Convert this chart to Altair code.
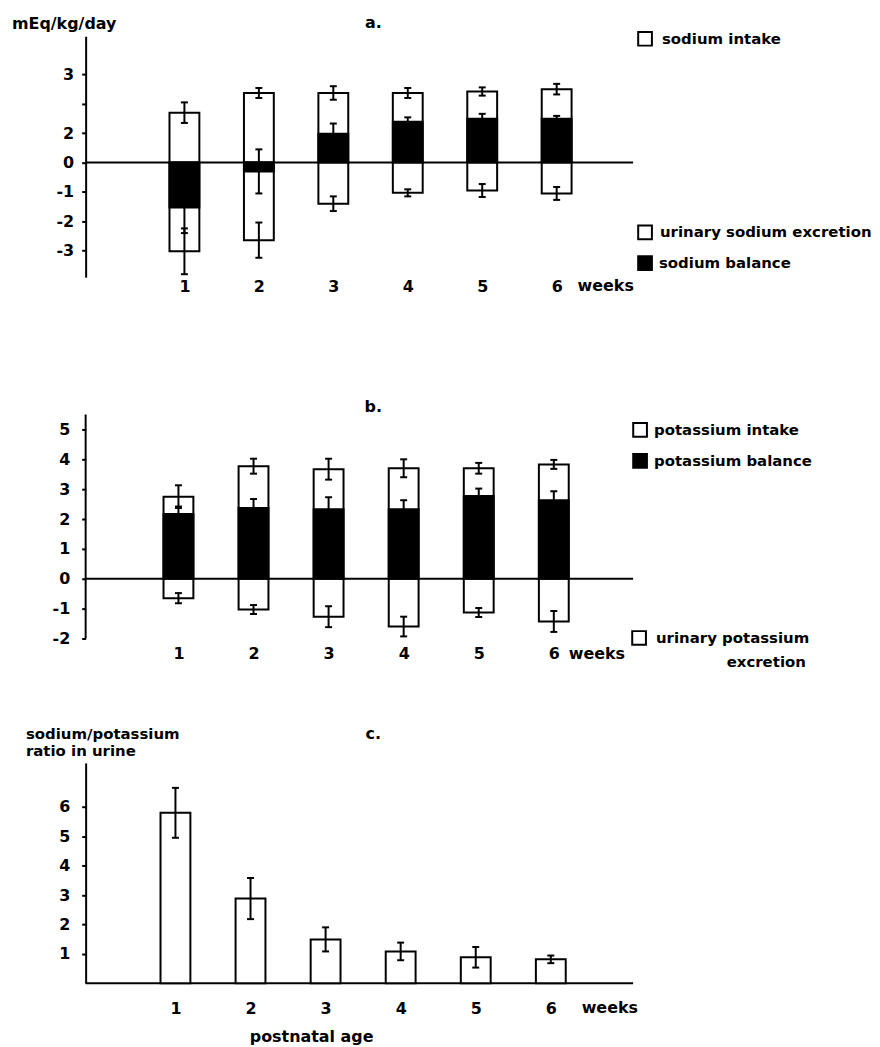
import altair as alt
import pandas as pd

FONT = "DejaVu Sans"

weeks = [1, 2, 3, 4, 5, 6]

# panel a: sodium (mEq/kg/day)
na_intake = [1.70, 2.37, 2.37, 2.37, 2.42, 2.50]
na_intake_err = [0.35, 0.17, 0.23, 0.17, 0.14, 0.18]
na_balance = [-1.53, -0.30, 0.98, 1.39, 1.49, 1.49]
na_balance_err = [0.87, 0.75, 0.35, 0.15, 0.17, 0.10]
na_excretion = [3.02, 2.64, 1.40, 1.03, 0.95, 1.05]
na_excretion_err = [0.78, 0.60, 0.25, 0.12, 0.22, 0.22]
na_ticks = [-3, -2, -1, 0, 1, 2, 3]
na_tick_labels = ["-3", "-2", "-1", "0", "2", "", "3"]

# panel b: potassium (mEq/kg/day)
k_intake = [2.75, 3.77, 3.67, 3.70, 3.70, 3.83]
k_intake_err = [0.38, 0.25, 0.35, 0.30, 0.18, 0.15]
k_balance = [2.17, 2.37, 2.33, 2.33, 2.77, 2.63]
k_balance_err = [0.25, 0.30, 0.40, 0.30, 0.25, 0.30]
k_excretion = [0.65, 1.03, 1.27, 1.60, 1.13, 1.43]
k_excretion_err = [0.17, 0.15, 0.35, 0.33, 0.15, 0.35]
k_ticks = [-2, -1, 0, 1, 2, 3, 4, 5]
k_tick_labels = ["-2", "-1", "0", "1", "2", "3", "4", "5"]

# panel c: sodium/potassium ratio in urine
ratio = [5.80, 2.88, 1.49, 1.08, 0.88, 0.81]
ratio_err = [0.85, 0.70, 0.41, 0.30, 0.35, 0.13]
ratio_ticks = [1, 2, 3, 4, 5, 6]
ratio_tick_labels = ["1", "2", "3", "4", "5", "6"]

W = 550
ONE = pd.DataFrame({"k": [0]})


def y_axis(ticks, labels, pad, domain=True):
    expr = " : ".join(f"datum.value == {t} ? '{l}'" for t, l in zip(ticks, labels)) + " : ''"
    return alt.Axis(values=ticks, labelExpr=expr, title=None, grid=False, labelOverlap=False,
                    domain=domain, domainColor="black", domainWidth=2, tickColor="black",
                    tickWidth=2, tickSize=4, labelPadding=pad, labelFont=FONT,
                    labelFontSize=16, labelFontWeight="bold", labelColor="black")


def x_axis(pad):
    return alt.Axis(values=weeks, format="d", title=None, grid=False, domain=False,
                    ticks=False, tickSize=0, labelPadding=pad, labelFont=FONT,
                    labelFontSize=16, labelFontWeight="bold", labelColor="black",
                    labelBaseline="top", labelOverlap=False)


def text(label, x, y, size=15, align="left", baseline="middle"):
    return alt.Chart(ONE).mark_text(text=label, align=align, baseline=baseline,
                                    font=FONT, fontSize=size, fontWeight="bold",
                                    color="black").encode(x=alt.value(x), y=alt.value(y))


def swatch(x, y, filled):
    return alt.Chart(ONE).mark_square(size=190, filled=filled, fill="black" if filled else "white",
                                      stroke="black", strokeWidth=2,
                                      opacity=1).encode(x=alt.value(x), y=alt.value(y))


def error_layers(df_err, xs, ys, xa, ya):
    rules = alt.Chart(df_err).mark_rule(color="black", strokeWidth=2).encode(
        x=alt.X("week:Q", scale=xs, axis=xa), y=alt.Y("lo:Q", scale=ys, axis=ya), y2="hi:Q")
    caps_df = pd.concat([df_err[["week", "lo"]].rename(columns={"lo": "v"}),
                         df_err[["week", "hi"]].rename(columns={"hi": "v"})])
    caps = alt.Chart(caps_df).mark_tick(orient="horizontal", size=7, thickness=2,
                                        color="black", opacity=1).encode(
        x=alt.X("week:Q", scale=xs, axis=xa), y=alt.Y("v:Q", scale=ys, axis=ya))
    return [rules, caps]


def balance_panel(intake, intake_err, balance, balance_err, excr, excr_err,
                  ydom, axis_span, ticks, labels, H, xdom, ylabpad, xlabpad, weeks_dx, extras):
    df = pd.DataFrame({"week": weeks, "intake": intake, "balance": balance,
                       "excr": [-v for v in excr]})
    rows = []
    for vals, errs in ((intake, intake_err), (balance, balance_err),
                       ([-v for v in excr], excr_err)):
        for w, v, e in zip(weeks, vals, errs):
            rows.append({"week": w, "lo": v - e, "hi": v + e})
    df_err = pd.DataFrame(rows)
    xs = alt.Scale(domain=xdom, nice=False, zero=False)
    ys = alt.Scale(domain=ydom, nice=False, zero=False)
    use_domain = axis_span is None
    xa = x_axis(xlabpad)
    ya = y_axis(ticks, labels, ylabpad, use_domain)

    zero = alt.Chart(ONE).mark_rule(color="black", strokeWidth=2).encode(
        x=alt.value(0), x2=alt.value(W), y=alt.Y(datum=0, scale=ys, axis=ya))
    layers = [zero]
    if not use_domain:
        layers.append(alt.Chart(ONE).mark_rule(color="black", strokeWidth=2).encode(
            x=alt.value(0), y=alt.Y(datum=axis_span[0], scale=ys, axis=ya),
            y2=alt.Y2(datum=axis_span[1])))
    base = alt.Chart(df)
    intake_bar = base.mark_bar(size=30, fill="white", stroke="black", strokeWidth=2).encode(
        x=alt.X("week:Q", scale=xs, axis=xa),
        y=alt.Y("intake:Q", scale=ys, axis=ya),
        y2=alt.Y2(datum=0))
    excr_bar = base.mark_bar(size=30, fill="white", stroke="black", strokeWidth=2).encode(
        x=alt.X("week:Q", scale=xs, axis=xa), y=alt.Y("excr:Q", scale=ys, axis=ya),
        y2=alt.Y2(datum=0))
    bal_bar = base.mark_bar(size=30, fill="black", stroke="black", strokeWidth=2).encode(
        x=alt.X("week:Q", scale=xs, axis=xa), y=alt.Y("balance:Q", scale=ys, axis=ya),
        y2=alt.Y2(datum=0))
    weeks_txt = alt.Chart(ONE).mark_text(text="weeks", align="left", baseline="top",
                                         dx=weeks_dx, font=FONT, fontSize=16,
                                         fontWeight="bold", color="black").encode(
        x=alt.X(datum=6, scale=xs, axis=xa), y=alt.value(H + xlabpad))
    layers += [intake_bar, excr_bar, bal_bar] + error_layers(df_err, xs, ys, xa, ya) + [weeks_txt] + extras
    return alt.layer(*layers).properties(width=W, height=H)


SPACING = 125
HA = 242
panel_a = balance_panel(
    na_intake, na_intake_err, na_balance, na_balance_err, na_excretion, na_excretion_err,
    [-3.9, 4.3], None, na_ticks, na_tick_labels, HA, [-0.26, 6.96], 8, 1, 21,
    [text("mEq/kg/day", -74, -12, size=16),
     text("a.", 289, -13, size=16, align="center"),
     swatch(562, 2.5, False), text("sodium intake", 579, 2.5),
     swatch(562, 197, False), text("urinary sodium excretion", 577, 197),
     swatch(562, 228, True), text("sodium balance", 576, 228)])

# panel b plot area starts a little above its axis line so both gaps can share one spacing
OFF = 13
HB = 225 + OFF
panel_b = balance_panel(
    k_intake, k_intake_err, k_balance, k_balance_err, k_excretion, k_excretion_err,
    [-2.0, 5.5 + OFF / 30], [-2.0, 5.5], k_ticks, k_tick_labels, HB, [-0.17, 6.99], 12, 7.5, 15,
    [text("b.", 289, -8 + OFF, size=16, align="center"),
     swatch(557, 15.5 + OFF, False), text("potassium intake", 571, 15.5 + OFF),
     swatch(557, 46.5 + OFF, True), text("potassium balance", 571, 46.5 + OFF),
     swatch(556, 224.5 + OFF, False), text("urinary potassium", 573, 224.5 + OFF),
     text("excretion", 644, 249 + OFF)])

HC = 221.25
xs_c = alt.Scale(domain=[-0.13, 7.03], nice=False, zero=False)
ys_c = alt.Scale(domain=[0, 7.5], nice=False, zero=False)
xa_c = x_axis(17)
ya_c = y_axis(ratio_ticks, ratio_tick_labels, 12)
df_c = pd.DataFrame({"week": weeks, "ratio": ratio})
df_c_err = pd.DataFrame({"week": weeks,
                         "lo": [v - e for v, e in zip(ratio, ratio_err)],
                         "hi": [v + e for v, e in zip(ratio, ratio_err)]})
c_bars = alt.Chart(df_c).mark_bar(size=30, fill="white", stroke="black", strokeWidth=2).encode(
    x=alt.X("week:Q", scale=xs_c, axis=xa_c),
    y=alt.Y("ratio:Q", scale=ys_c, axis=ya_c),
    y2=alt.Y2(datum=0))
c_zero = alt.Chart(ONE).mark_rule(color="black", strokeWidth=2).encode(
    x=alt.value(0), x2=alt.value(W), y=alt.Y(datum=0, scale=ys_c, axis=ya_c))
c_weeks = alt.Chart(ONE).mark_text(text="weeks", align="left", baseline="top", dx=31,
                                   font=FONT, fontSize=16, fontWeight="bold",
                                   color="black").encode(
    x=alt.X(datum=6, scale=xs_c, axis=xa_c), y=alt.value(HC + 17))
panel_c = alt.layer(
    c_zero, c_bars, *error_layers(df_c_err, xs_c, ys_c, xa_c, ya_c), c_weeks,
    text("sodium/potassium", -60, -29, size=15),
    text("ratio in urine", -60, -12, size=15),
    text("c.", 289, -29, size=16, align="center"),
    text("postnatal age", 227, 275, size=16, align="center"),
).properties(width=W, height=HC)

chart = alt.vconcat(panel_a, panel_b, panel_c, spacing=SPACING, bounds="flush").properties(
    padding={"left": 4, "top": 5, "right": 0, "bottom": 0}, background="white"
).configure_view(strokeWidth=0)

chart.save("out.html", embed_options={"renderer": "svg", "actions": False})
